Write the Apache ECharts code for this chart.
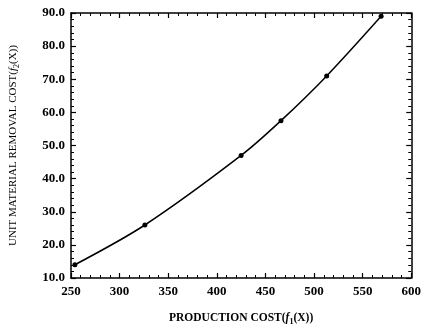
<!DOCTYPE html>
<html>
<head>
<meta charset="utf-8">
<script src="https://cdn.jsdelivr.net/npm/echarts@6/dist/echarts.min.js"></script>
<style>
  html, body { margin: 0; padding: 0; background: #fff; }
  #chart { width: 424px; height: 331px; }
</style>
</head>
<body>
<div id="chart"></div>
<script>
// values
const productionCost = [254, 326, 425, 466, 513, 569]
const removalCost = [14.0, 26.0, 47.0, 57.5, 71.0, 89.0]

const serif = '"Liberation Serif", "DejaVu Serif", serif'

let myEcharts = echarts.init(document.getElementById('chart'))

const tickStyle = {
  axisLine: {show: true, lineStyle: {color: '#000', width: 1.5}},
  axisTick: {show: true, inside: true, length: 5, lineStyle: {color: '#000', width: 1.2}},
  minorTick: {show: true, splitNumber: 5, length: 3, lineStyle: {color: '#000', width: 1}},
  splitLine: {show: false}
}

let option = {
  animation: false,
  backgroundColor: '#fff',
  grid: {left: 71, right: 11, top: 13, bottom: 52},
  xAxis: [
    {
      type: 'value', min: 250, max: 600, interval: 50,
      ...tickStyle,
      axisLabel: {color: '#000', fontFamily: serif, fontWeight: 'bold', fontSize: 13, margin: 7},
      name: '{t|PRODUCTION COST(}{i|f}{s|1}{t|(X))}',
      nameLocation: 'middle',
      nameGap: 33,
      nameTextStyle: {
        rich: {
          t: {fontFamily: serif, fontSize: 11.5, fontWeight: 'bold', color: '#000'},
          i: {fontFamily: serif, fontSize: 11.5, fontStyle: 'italic', fontWeight: 'bold', color: '#000'},
          s: {fontFamily: serif, fontSize: 8, fontWeight: 'bold', color: '#000', padding: [7, 0, 0, 0]}
        }
      }
    },
    {
      type: 'value', min: 250, max: 600, interval: 50, position: 'top',
      ...tickStyle,
      axisLabel: {show: false}
    }
  ],
  yAxis: [
    {
      type: 'value', min: 10, max: 90, interval: 10,
      ...tickStyle,
      axisLabel: {
        color: '#000', fontFamily: serif, fontWeight: 'bold', fontSize: 13, margin: 6,
        formatter: v => v.toFixed(1)
      },
      name: '{t|UNIT MATERIAL REMOVAL COST(}{i|f}{s|2}{t|(X))}',
      nameLocation: 'middle',
      nameGap: 50,
      nameTextStyle: {
        rich: {
          t: {fontFamily: serif, fontSize: 11, color: '#000'},
          i: {fontFamily: serif, fontSize: 11, fontStyle: 'italic', color: '#000'},
          s: {fontFamily: serif, fontSize: 8, color: '#000', padding: [7, 0, 0, 0]}
        }
      }
    },
    {
      type: 'value', min: 10, max: 90, interval: 10, position: 'right',
      ...tickStyle,
      axisLabel: {show: false}
    }
  ],
  series: [
    {
      type: 'line',
      data: productionCost.map((x, i) => [x, removalCost[i]]),
      smooth: 0.3,
      symbol: 'circle',
      symbolSize: 5,
      itemStyle: {color: '#000'},
      lineStyle: {color: '#000', width: 1.5}
    }
  ]
}
myEcharts.setOption(option)
</script>
</body>
</html>
